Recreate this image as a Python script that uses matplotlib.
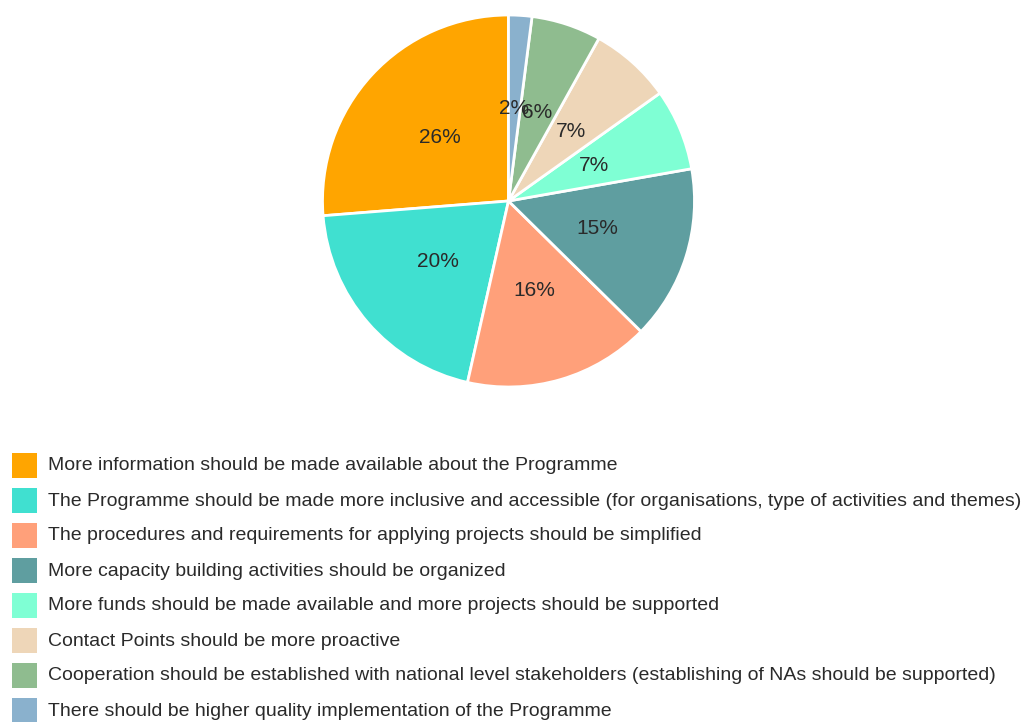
import matplotlib
matplotlib.use("Agg")
import matplotlib.pyplot as plt
from matplotlib.patches import Rectangle

plt.rcParams["font.family"] = ["Liberation Sans", "DejaVu Sans"]

# ---- survey answers (share of responses, %) ----
answers = [
    "More information should be made available about the Programme",
    "The Programme should be made more inclusive and accessible (for organisations, type of activities and themes)",
    "The procedures and requirements for applying projects should be simplified",
    "More capacity building activities should be organized",
    "More funds should be made available and more projects should be supported",
    "Contact Points should be more proactive",
    "Cooperation should be established with national level stakeholders (establishing of NAs should be supported)",
    "There should be higher quality implementation of the Programme",
]
shares = [26, 20, 16, 15, 7, 7, 6, 2]
colors = ["#FFA500", "#40E0D0", "#FFA07A", "#5F9EA0",
          "#7FFFD4", "#EED6B8", "#8FBC8F", "#8AB1CD"]

W, H = 1029, 722
fig = plt.figure(figsize=(W / 100, H / 100), dpi=100)

# pie centred at (508, 201) px, radius 186 px
cx, cy, r = 508.5, 201, 186
ax = fig.add_axes([(cx - r) / W, (H - cy - r) / H, 2 * r / W, 2 * r / H])
wedges, _, autotexts = ax.pie(
    shares, colors=colors, startangle=90, counterclock=True,
    autopct="%.0f%%", pctdistance=0.5,
    wedgeprops=dict(edgecolor="white", linewidth=2),
    textprops=dict(color="#2a2a2a", fontsize=15),
)
ax.set_xlim(-1, 1)
ax.set_ylim(-1, 1)
ax.axis("off")

# ---- legend: colour squares + labels, one row each ----
y0, step = 453, 35
for i, (lab, col) in enumerate(zip(answers, colors)):
    top = y0 + i * step
    fig.add_artist(Rectangle((12 / W, 1 - (top + 25) / H), 25 / W, 25 / H,
                             transform=fig.transFigure, facecolor=col,
                             edgecolor="none"))
    fig.text(48 / W, 1 - (top + 13) / H, lab, fontsize=14,
             color="#2a2a2a", va="center", ha="left")

fig.savefig("out.png", dpi=100)
